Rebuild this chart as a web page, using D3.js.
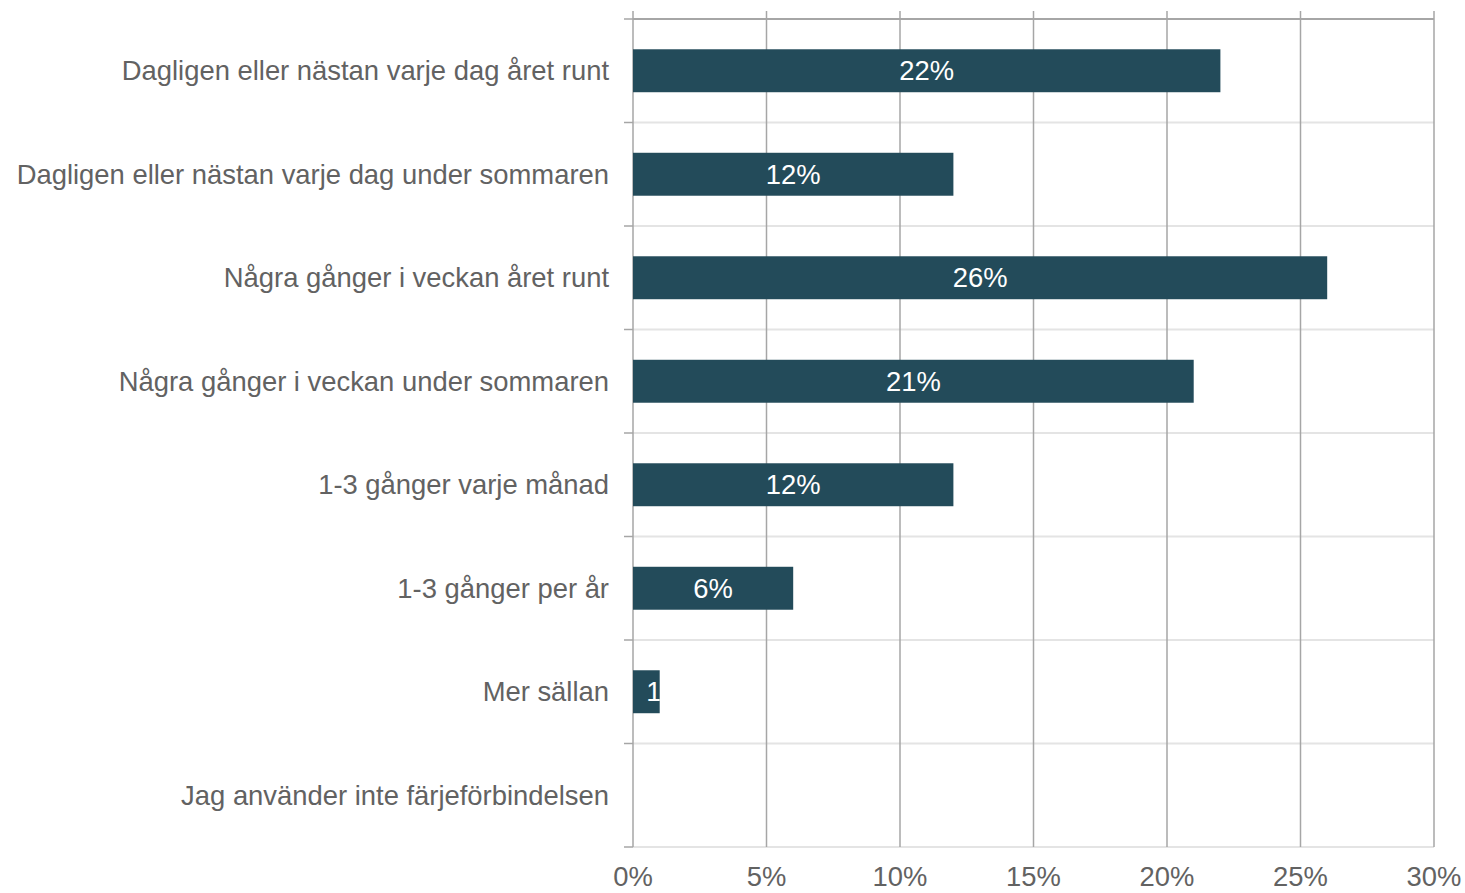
<!DOCTYPE html>
<html><head><meta charset="utf-8">
<script src="https://cdn.jsdelivr.net/npm/d3@7"></script>
<style>body{margin:0;background:#fff}svg{display:block}text{font-family:"Liberation Sans",Arial,sans-serif}</style>
</head><body><svg id="c" width="1465" height="893"></svg>
<script>
const categories = ["Dagligen eller nästan varje dag året runt","Dagligen eller nästan varje dag under sommaren","Några gånger i veckan året runt","Några gånger i veckan under sommaren","1-3 gånger varje månad","1-3 gånger per år","Mer sällan","Jag använder inte färjeförbindelsen"];
const values = [22,12,26,21,12,6,1,0];
const valueLabels = ["22%","12%","26%","21%","12%","6%","1%",""];
const xTicks = [0,5,10,15,20,25,30];
const tickLabels = ["0%","5%","10%","15%","20%","25%","30%"];

const svg = d3.select("#c");
const L=633, R=1434, T=19, B=847;
const x = d3.scaleLinear().domain([0,30]).range([L,R]);
const y = d3.scaleBand().domain(categories).range([T,B]).paddingInner(0.585).paddingOuter(0.2925);
const bandStep = (B-T)/categories.length;
const fs = 27.4;

// horizontal separators
const seps = d3.range(categories.length+1).map(i=>T+i*bandStep);
svg.selectAll(".hs").data(seps).enter().append("line")
  .attr("x1",L).attr("x2",R).attr("y1",d=>d).attr("y2",d=>d)
  .attr("stroke",(d,i)=>i===0?"#a6a6a6":"#e4e4e4").attr("stroke-width",2);
// vertical grid
svg.selectAll(".vg").data(xTicks).enter().append("line")
  .attr("x1",d=>x(d)).attr("x2",d=>x(d)).attr("y1",11).attr("y2",B)
  .attr("stroke","#a6a6a6").attr("stroke-width",1.5);
// y ticks
svg.selectAll(".yt").data(seps).enter().append("line")
  .attr("x1",624).attr("x2",L).attr("y1",d=>d).attr("y2",d=>d)
  .attr("stroke","#a6a6a6").attr("stroke-width",1.5);

// bars
const defs = svg.append("defs");
categories.forEach((c,i)=>{
  defs.append("clipPath").attr("id","cp"+i).append("rect")
    .attr("x",x(0)).attr("y",y(c)).attr("width",x(values[i])-x(0)).attr("height",y.bandwidth());
});
svg.selectAll(".bar").data(categories).enter().append("rect")
  .attr("x",x(0)).attr("y",d=>y(d)).attr("width",(d,i)=>x(values[i])-x(0)).attr("height",y.bandwidth())
  .attr("fill","#234b5a");
svg.selectAll(".vl").data(categories).enter().append("text")
  .attr("clip-path",(d,i)=>`url(#cp${i})`)
  .attr("x",(d,i)=>x(values[i]/2))
  .attr("y",d=>y(d)+y.bandwidth()/2)
  .attr("dy","0.35em")
  .attr("text-anchor",(d,i)=>values[i]<3?"start":"middle")
  .attr("fill","#fff").attr("font-size",fs)
  .text((d,i)=>valueLabels[i]);

// category labels
svg.selectAll(".cl").data(categories).enter().append("text")
  .attr("x",609).attr("y",d=>y(d)+y.bandwidth()/2).attr("dy","0.35em")
  .attr("text-anchor","end").attr("fill","#626262").attr("font-size",fs)
  .text(d=>d);
// tick labels
svg.selectAll(".tl").data(xTicks).enter().append("text")
  .attr("x",d=>x(d)).attr("y",876).attr("dy","0.35em")
  .attr("text-anchor","middle").attr("fill","#626262").attr("font-size",fs)
  .text((d,i)=>tickLabels[i]);
</script></body></html>
